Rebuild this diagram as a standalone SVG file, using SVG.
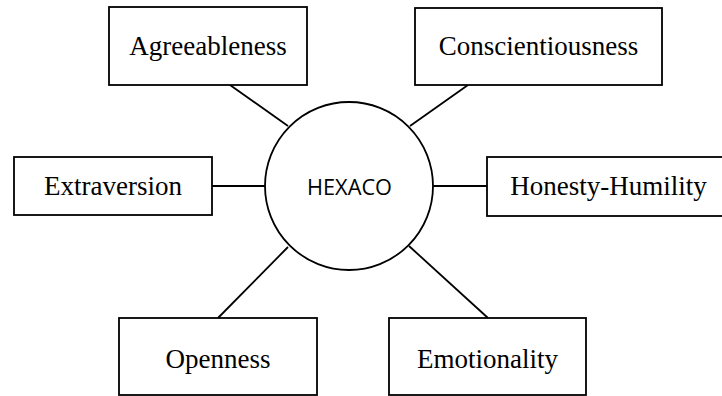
<svg xmlns="http://www.w3.org/2000/svg" width="722" height="396" viewBox="0 0 722 396">
<style>
.box{fill:#fff;stroke:#000;stroke-width:1.8}
.lbl{font-family:"Liberation Serif","Times New Roman",serif;font-size:27px;fill:#000;text-anchor:middle}
.hub{font-family:"Open Sans","Liberation Sans",sans-serif;font-size:21px;fill:#000;text-anchor:middle}
.con{stroke:#000;stroke-width:1.8;fill:none}
</style>
<rect width="722" height="396" fill="#fff"/>
<g id="connectors">
<line class="con" x1="230" y1="85" x2="288" y2="126"/>
<line class="con" x1="468" y1="85" x2="410" y2="126"/>
<line class="con" x1="212" y1="186" x2="265" y2="186"/>
<line class="con" x1="433" y1="186" x2="487" y2="186"/>
<line class="con" x1="218" y1="318" x2="288" y2="247"/>
<line class="con" x1="488" y1="318" x2="409" y2="246"/>
</g>
<g id="hexaco">
<circle class="box" cx="349" cy="186" r="84"/>
<text class="hub" x="349.5" y="195" textLength="85" lengthAdjust="spacingAndGlyphs">HEXACO</text>
</g>
<g id="agreeableness">
<rect class="box" x="109" y="7" width="198" height="78"/>
<text class="lbl" x="208" y="55">Agreeableness</text>
</g>
<g id="conscientiousness">
<rect class="box" x="415" y="8" width="247" height="77"/>
<text class="lbl" x="538.5" y="55">Conscientiousness</text>
</g>
<g id="extraversion">
<rect class="box" x="14" y="157" width="198" height="58"/>
<text class="lbl" x="113" y="195">Extraversion</text>
</g>
<g id="honesty-humility">
<rect class="box" x="487" y="157" width="245" height="59"/>
<text class="lbl" x="608.5" y="195">Honesty-Humility</text>
</g>
<g id="openness">
<rect class="box" x="119" y="318" width="198" height="77"/>
<text class="lbl" x="218" y="368">Openness</text>
</g>
<g id="emotionality">
<rect class="box" x="389" y="318" width="197" height="77"/>
<text class="lbl" x="487.5" y="368">Emotionality</text>
</g>
</svg>
